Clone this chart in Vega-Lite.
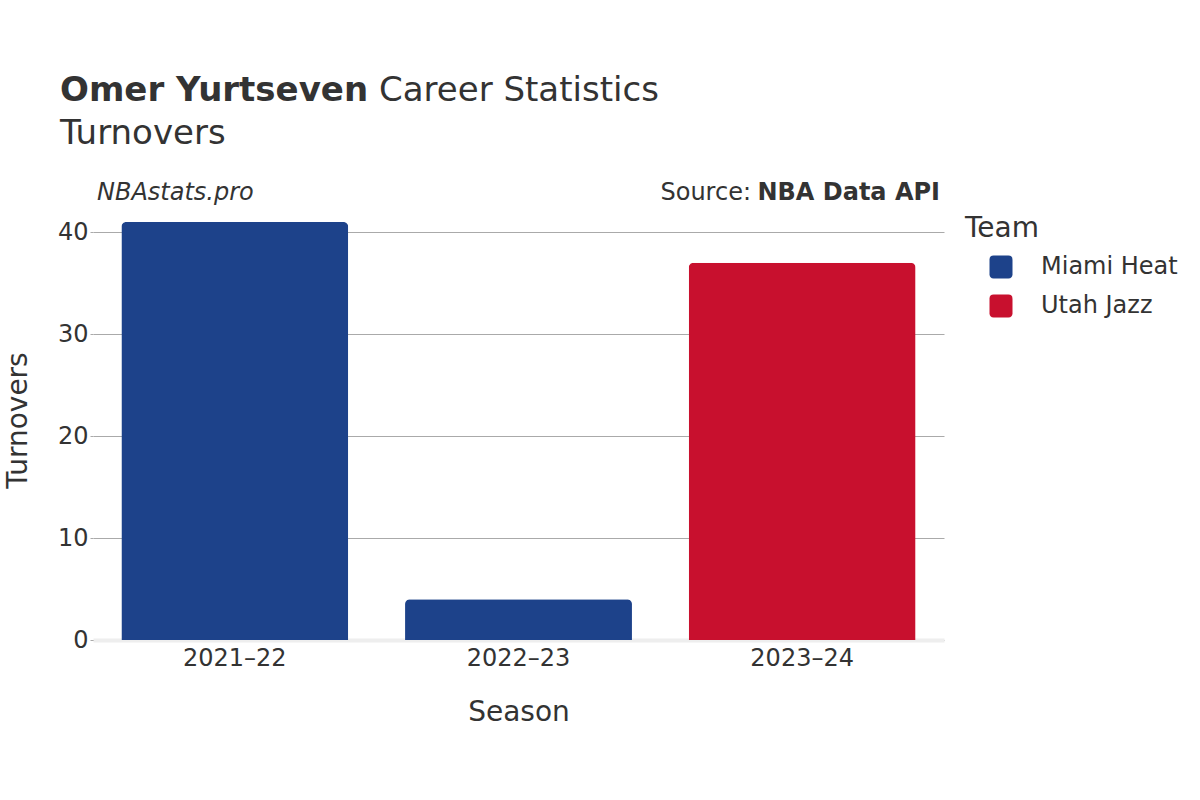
{
  "$schema": "https://vega.github.io/schema/vega-lite/v6.json",
  "autosize": {"type": "none"},
  "width": 851,
  "height": 418,
  "padding": {"left": 93, "top": 222, "right": 256, "bottom": 160},
  "background": "white",
  "config": {
    "font": "DejaVu Sans",
    "view": {"stroke": null},
    "axis": {"labelColor": "#333333", "titleColor": "#333333", "labelFont": "DejaVu Sans", "titleFont": "DejaVu Sans", "titleFontWeight": "normal"},
    "legend": {"labelColor": "#333333", "titleColor": "#333333", "titleFontWeight": "normal"}
  },
  "layer": [
    {
      "data": {
        "values": [
          {"Season": "2021–22", "Team": "Miami Heat", "Turnovers": 41},
          {"Season": "2022–23", "Team": "Miami Heat", "Turnovers": 4},
          {"Season": "2023–24", "Team": "Utah Jazz", "Turnovers": 37}
        ]
      },
      "mark": {"type": "bar", "cornerRadiusTopLeft": 5, "cornerRadiusTopRight": 5},
      "encoding": {
        "x": {
          "field": "Season", "type": "nominal", "sort": null,
          "scale": {"paddingInner": 0.2, "paddingOuter": 0.1},
          "axis": {
            "labelAngle": 0, "labelFontSize": 24, "labelPadding": 6, "ticks": false,
            "domainColor": "#eeeeee", "domainWidth": 4,
            "title": "Season", "titleFontSize": 28, "titlePadding": 28
          }
        },
        "y": {
          "field": "Turnovers", "type": "quantitative",
          "scale": {"domain": [0, 41], "nice": false},
          "axis": {
            "values": [0, 10, 20, 30, 40], "labelFontSize": 24, "labelPadding": 2,
            "tickSize": 3, "tickColor": "#aaaaaa", "gridColor": "#aaaaaa", "domain": false,
            "title": "Turnovers", "titleFontSize": 28, "titlePadding": 25, "titleY": 198
          }
        },
        "color": {
          "field": "Team", "type": "nominal",
          "scale": {"domain": ["Miami Heat", "Utah Jazz"], "range": ["#1D428A", "#C8102E"]},
          "legend": {
            "title": "Team", "titleFontSize": 28, "labelFontSize": 24,
            "symbolType": "M -0.64 -1 L 0.64 -1 Q 1 -1 1 -0.64 L 1 0.64 Q 1 1 0.64 1 L -0.64 1 Q -1 1 -1 0.64 L -1 -0.64 Q -1 -1 -0.64 -1 Z",
            "symbolSize": 529, "symbolOpacity": 1, "symbolStrokeWidth": 0, "symbolOffset": 24, "labelOffset": 28,
            "rowPadding": 15, "titlePadding": 12, "orient": "none", "legendX": 872, "legendY": -7, "padding": 0
          }
        }
      }
    },
    {
      "data": {"values": [{"t": "Omer Yurtseven"}]},
      "mark": {"type": "text", "align": "left", "baseline": "alphabetic", "fontSize": 34, "fontWeight": "bold", "color": "#333333"},
      "encoding": {"text": {"field": "t"}, "x": {"value": -33}, "y": {"value": -121}}
    },
    {
      "data": {"values": [{"t": "Career Statistics"}]},
      "mark": {"type": "text", "align": "left", "baseline": "alphabetic", "fontSize": 34, "color": "#333333"},
      "encoding": {"text": {"field": "t"}, "x": {"value": 286}, "y": {"value": -121}}
    },
    {
      "data": {"values": [{"t": "Turnovers"}]},
      "mark": {"type": "text", "align": "left", "baseline": "alphabetic", "fontSize": 34, "color": "#333333"},
      "encoding": {"text": {"field": "t"}, "x": {"value": -33}, "y": {"value": -78}}
    },
    {
      "data": {"values": [{"t": "NBAstats.pro"}]},
      "mark": {"type": "text", "align": "left", "baseline": "alphabetic", "fontSize": 24, "fontStyle": "italic", "color": "#333333"},
      "encoding": {"text": {"field": "t"}, "x": {"value": 4}, "y": {"value": -22}}
    },
    {
      "data": {"values": [{"t": "NBA Data API"}]},
      "mark": {"type": "text", "align": "right", "baseline": "alphabetic", "fontSize": 24, "fontWeight": "bold", "color": "#333333"},
      "encoding": {"text": {"field": "t"}, "x": {"value": 847}, "y": {"value": -22}}
    },
    {
      "data": {"values": [{"t": "Source:"}]},
      "mark": {"type": "text", "align": "right", "baseline": "alphabetic", "fontSize": 24, "color": "#333333"},
      "encoding": {"text": {"field": "t"}, "x": {"value": 658}, "y": {"value": -22}}
    }
  ]
}
